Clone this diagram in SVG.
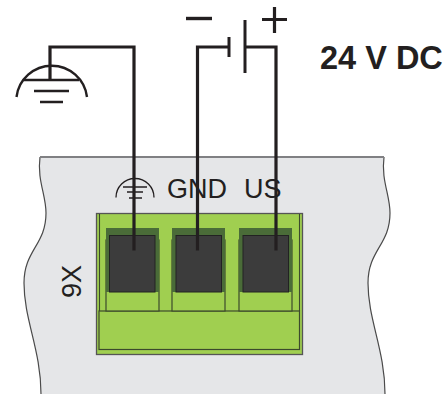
<svg xmlns="http://www.w3.org/2000/svg" width="444" height="394" viewBox="0 0 444 394">
<style>
.wire{fill:none;stroke:#231f20;stroke-width:3.2}
.sym{fill:none;stroke:#231f20;stroke-width:2.4}
.lbl{font-family:"Liberation Sans",Arial,sans-serif;fill:#231f20;font-size:27px}
.edge{fill:none;stroke:#4a4a4a;stroke-width:1.2}
.gf{fill:#a0cf50;stroke:#3c4a2c;stroke-width:1.2}
.dk{fill:#3c3c3c;stroke:#222;stroke-width:1}
.dg{fill:#4a6c38}
</style>
<g id="panel">
<path d="M40 157H384C381 180 390 195 390 213C390 245 368 250 368 283C368 320 385 350 385 394H41C41 350 24 320 24 283C24 250 46 245 46 213C46 195 37 180 40 157Z" fill="#e5e6e8"/>
<path class="edge" d="M384 157C381 180 390 195 390 213C390 245 368 250 368 283C368 320 385 350 385 394"/>
<path class="edge" d="M40 157C37 180 46 195 46 213C46 245 24 250 24 283C24 320 41 350 41 394"/>
<path d="M40 157H384" stroke="#808083" stroke-width="1.8" fill="none"/>
</g>
<g id="label-9x"><text class="lbl" transform="translate(81 281.500) rotate(-90)" text-anchor="middle">9X</text></g>
<g id="label-gnd"><text class="lbl" x="167" y="197.500">GND</text></g>
<g id="label-us"><text class="lbl" x="244" y="197.500">US</text></g>
<g id="ground-small">
<path d="M116 197.500A19 19 0 0 1 154 197.500" fill="none" stroke="#231f20" stroke-width="1.300"/>
<path d="M123 187H147M127 192H143M129 198H142" fill="none" stroke="#231f20" stroke-width="1.300"/>
</g>
<g id="terminal">
<rect x="96.500" y="213.500" width="206" height="141" fill="#a0cf50" stroke="#555" stroke-width="1.300"/>
<path d="M99.500 214V311" stroke="#3c4a2c" stroke-width="1.100" fill="none"/>
<path d="M299.500 214V311" stroke="#3c4a2c" stroke-width="1.100" fill="none"/>
<rect class="gf" x="99" y="311" width="200.500" height="38.500"/>
<g id="slot-1">
<rect class="gf" x="106" y="240" width="53" height="71"/>
<rect class="dg" x="106" y="228" width="53" height="64"/>
<rect class="dk" x="109.500" y="235.500" width="45.500" height="56.500"/>
</g>
<g id="slot-2">
<rect class="gf" x="172" y="240" width="53" height="71"/>
<rect class="dg" x="172" y="228" width="53" height="64"/>
<rect class="dk" x="176" y="235.500" width="45.500" height="56.500"/>
</g>
<g id="slot-3">
<rect class="gf" x="239" y="240" width="53" height="71"/>
<rect class="dg" x="239" y="228" width="53" height="64"/>
<rect class="dk" x="243" y="235.500" width="45.500" height="56.500"/>
</g>
</g>
<g id="ground-large">
<path class="sym" d="M16.500 97A35.500 35.500 0 0 1 87 97"/>
<path class="sym" d="M24 80H79M34 91H69M40 102H63"/>
</g>
<g id="battery">
<path d="M229 37V57" fill="none" stroke="#231f20" stroke-width="3"/>
<path d="M245 20V73" fill="none" stroke="#231f20" stroke-width="3"/>
</g>
<g id="minus"><path d="M186 18.500H212" fill="none" stroke="#231f20" stroke-width="3.400"/></g>
<g id="plus"><path d="M262 19.500H287M274.500 7V33" fill="none" stroke="#231f20" stroke-width="3.200"/></g>
<g id="label-24v"><text x="320" y="69" font-family="Liberation Sans, Arial, sans-serif" font-weight="700" font-size="32.500" fill="#231f20">24 V DC</text></g>
<g id="connectors">
<path class="wire" d="M50 80V47H134V250.500"/>
<path class="wire" d="M229 47H197.500V250.500"/>
<path class="wire" d="M245 47H276V250.500"/>
</g>
</svg>
